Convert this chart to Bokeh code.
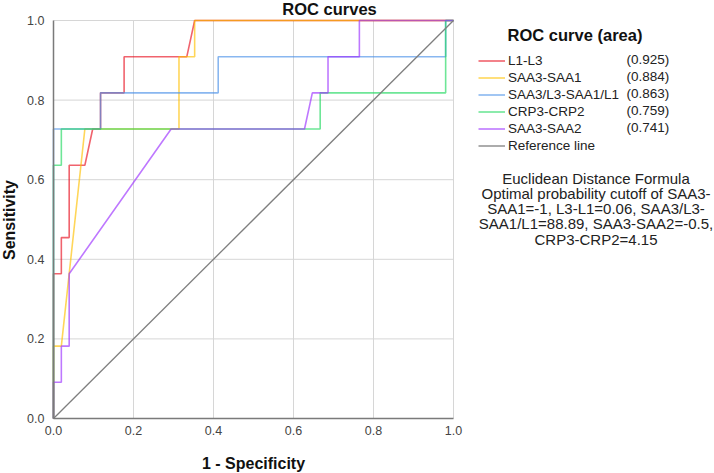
import math
from bokeh.plotting import figure
from bokeh.models import Range1d, Legend, LegendItem, Label, FixedTicker, CustomJSTickFormatter
from bokeh.embed import file_html
from bokeh.resources import INLINE

# ---------------- data ----------------
names = ["L1-L3", "SAA3-SAA1", "SAA3/L3-SAA1/L1", "CRP3-CRP2", "SAA3-SAA2"]
areas = ["(0.925)", "(0.884)", "(0.863)", "(0.759)", "(0.741)"]

l1l3_fpr = [0, 0, 0.0196, 0.0196, 0.0392, 0.0392, 0.0784, 0.0980, 0.1176, 0.1176, 0.1765, 0.1765, 0.3333, 0.3529, 1.0]
l1l3_tpr = [0, 0.3636, 0.3636, 0.4545, 0.4545, 0.6364, 0.6364, 0.7273, 0.7273, 0.8182, 0.8182, 0.9091, 0.9091, 1.0, 1.0]

saa31_fpr = [0, 0, 0.0196, 0.0784, 0.3137, 0.3137, 0.3529, 0.3529, 1.0]
saa31_tpr = [0, 0.1818, 0.1818, 0.7273, 0.7273, 0.9091, 0.9091, 1.0, 1.0]

ratio_fpr = [0, 0, 0.1176, 0.1176, 0.4118, 0.4118, 0.9804, 0.9804, 1.0]
ratio_tpr = [0, 0.7273, 0.7273, 0.8182, 0.8182, 0.9091, 0.9091, 1.0, 1.0]

crp_fpr = [0, 0, 0.0196, 0.0196, 0.6667, 0.6667, 0.9804, 0.9804, 1.0]
crp_tpr = [0, 0.6364, 0.6364, 0.7273, 0.7273, 0.8182, 0.8182, 1.0, 1.0]

saa32_fpr = [0, 0, 0.0196, 0.0196, 0.0392, 0.0392, 0.2941, 0.6275, 0.6471, 0.6863, 0.6863, 0.7647, 0.7647, 1.0]
saa32_tpr = [0, 0.0909, 0.0909, 0.1818, 0.1818, 0.3636, 0.7273, 0.7273, 0.8182, 0.8182, 0.9091, 0.9091, 1.0, 1.0]

ref_x = [0, 1]
ref_y = [0, 1]

ticks = [0.0, 0.2, 0.4, 0.6, 0.8, 1.0]

note_lines = [
    "Euclidean Distance Formula",
    "Optimal probability cutoff of SAA3-",
    "SAA1=-1, L3-L1=0.06, SAA3/L3-",
    "SAA1/L1=88.89, SAA3-SAA2=-0.5,",
    "CRP3-CRP2=4.15",
]

colors = ["#e8101f", "#ffc000", "#4a90e8", "#20d860", "#9b30ff"]
FONT = "Liberation Sans"

# ---------------- layout (pixels of the 714x473 canvas) ----------------
W, H = 714, 473
X0_PX, Y0_PX = 53, 418            # pixel position of the (0, 0) corner
PLOT_W, PLOT_H = 400, 398          # size of the unit square in pixels

def dx(px):
    return (px - X0_PX) / PLOT_W

def dy(py):
    return (Y0_PX - py) / PLOT_H

p = figure(width=W, height=H, output_backend="svg", toolbar_location=None,
           x_range=Range1d(dx(0), dx(W)), y_range=Range1d(dy(H), dy(0)),
           min_border=0)
p.styles = {"position": "absolute", "top": "0px", "left": "0px"}

p.background_fill_color = "white"
p.border_fill_color = "white"
p.outline_line_color = None
p.xgrid.visible = False
p.ygrid.visible = False

for ax in (p.xaxis[0], p.yaxis[0]):
    ax.fixed_location = 0
    ax.ticker = FixedTicker(ticks=ticks)
    ax.bounds = (0, 1)
    ax.formatter = CustomJSTickFormatter(code="return tick.toFixed(1);")
    ax.major_tick_line_color = None
    ax.minor_tick_line_color = None
    ax.axis_line_color = "#7a7a7a"
    ax.axis_line_width = 1.5
    ax.major_label_text_font = FONT
    ax.major_label_text_font_size = "12.5px"
    ax.major_label_text_color = "#444444"

p.xaxis[0].major_label_standoff = 1
p.yaxis[0].major_label_standoff = 3

# grid lines restricted to the unit square
gt = ticks[1:]
p.segment(x0=gt, x1=gt, y0=[0] * len(gt), y1=[1] * len(gt), line_color="#d6d6d6", line_width=1)
p.segment(x0=[0] * len(gt), x1=[1] * len(gt), y0=gt, y1=gt, line_color="#d6d6d6", line_width=1)

series = [(l1l3_fpr, l1l3_tpr), (saa31_fpr, saa31_tpr), (ratio_fpr, ratio_tpr),
          (crp_fpr, crp_tpr), (saa32_fpr, saa32_tpr)]
renderers = []
for (xs, ys), c in zip(series, colors):
    r = p.line(xs, ys, line_color=c, line_width=1.6, line_alpha=0.65)
    renderers.append(r)
ref = p.line(ref_x, ref_y, line_color="#7f7f7f", line_width=1.3)

items = [LegendItem(label=n, renderers=[r]) for n, r in zip(names, renderers)]
items.append(LegendItem(label="Reference line", renderers=[ref]))
legend = Legend(items=items, location=(478, H - 152.5),
                padding=0, margin=0, spacing=2,
                glyph_width=27, glyph_height=15, label_height=15,
                label_standoff=3,
                label_text_font=FONT, label_text_font_size="13.5px",
                label_text_color="#222222",
                border_line_color=None, background_fill_alpha=0)
p.add_layout(legend)

def text(px, py, t, size, bold=False, align="center", baseline="alphabetic", angle=0.0):
    p.add_layout(Label(x=dx(px), y=dy(py), text=t, text_align=align, text_baseline=baseline,
                       text_font=FONT, text_font_size=size, angle=angle,
                       text_font_style="bold" if bold else "normal",
                       text_color="#111111" if bold else "#222222"))

# chart title and axis titles
text(329, 8, "ROC curves", "16.5px", bold=True)
text(253, 463, "1 - Specificity", "16px", bold=True)
text(9, 219.5, "Sensitivity", "16px", bold=True, angle=math.pi / 2)
# legend title
text(574.5, 34.5, "ROC curve (area)", "16.5px", bold=True)
# area values
row0, pitch = 58.5, 17
for i, a in enumerate(areas):
    text(626, row0 + i * pitch, a, "13.5px", align="left", baseline="middle")
# note block
for i, t in enumerate(note_lines):
    text(595.5, 177.5 + i * 15.25, t, "15px")

open("out.html", "w").write(file_html(p, INLINE))
